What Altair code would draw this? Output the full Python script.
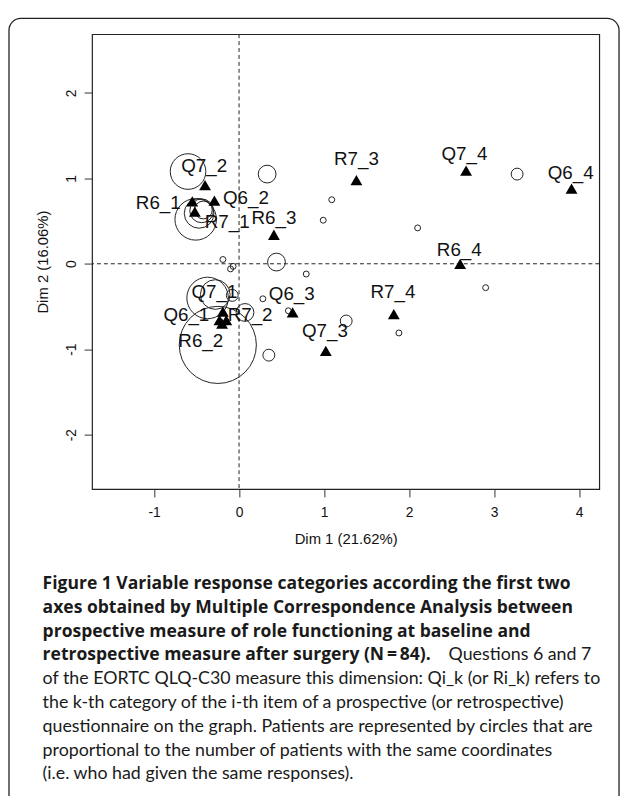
import altair as alt
import pandas as pd

# ---- category points (filled triangles) ----
cat_names = ["Q6_1", "Q6_2", "Q6_3", "Q6_4", "Q7_1", "Q7_2", "Q7_3", "Q7_4",
             "R6_1", "R6_2", "R6_3", "R6_4", "R7_1", "R7_2", "R7_3", "R7_4"]
cat_x = [-0.23, -0.29, 0.63, 3.91, -0.19, -0.40, 1.02, 2.67,
         -0.55, -0.20, 0.41, 2.60, -0.52, -0.15, 1.38, 1.82]
cat_y = [-0.66, 0.74, -0.57, 0.88, -0.56, 0.92, -1.02, 1.09,
         0.73, -0.70, 0.34, 0.00, 0.61, -0.66, 0.98, -0.59]
# label anchor points (data units)
lab_x = [-0.62, 0.08, 0.62, 3.90, -0.29, -0.41, 1.01, 2.65,
         -0.95, -0.45, 0.41, 2.59, -0.14, 0.13, 1.38, 1.81]
lab_y = [-0.60, 0.77, -0.35, 1.06, -0.33, 1.14, -0.79, 1.29,
         0.71, -0.91, 0.53, 0.16, 0.49, -0.60, 1.23, -0.33]

# ---- patients (open circles, radius proportional to count) ----
pat_x = [-0.60, -0.51, -0.47, -0.44, -0.42,
         -0.25, -0.37, -0.28, -0.08, 0.07,
         0.33, 0.44, 3.27, 1.26, 0.35,
         1.09, 0.99, -0.19, -0.10, -0.07, 0.79, 2.10, 2.90, 1.88, 0.28, 0.58]
pat_y = [1.08, 0.52, 0.59, 0.62, 0.63,
         -0.95, -0.40, -0.36, -0.37, -0.57,
         1.05, 0.02, 1.05, -0.67, -1.07,
         0.75, 0.51, 0.05, -0.06, -0.03, -0.12, 0.42, -0.28, -0.81, -0.41, -0.55]
pat_n = [6, 7, 5, 4, 3,
         13, 7, 5, 2, 3,
         3, 3, 2, 2, 2,
         1, 1, 1, 1, 1, 1, 1, 1, 1, 1, 1]

x_ticks = [-1, 0, 1, 2, 3, 4]
y_ticks = [-2, -1, 0, 1, 2]

caption_bold = [
    "Figure 1 Variable response categories according the first two",
    "axes obtained by Multiple Correspondence Analysis between",
    "prospective measure of role functioning at baseline and",
    "retrospective measure after surgery (N\u2009=\u200984).",
]
caption_tail = "Questions 6 and 7"
caption_regular = [
    "of the EORTC QLQ-C30 measure this dimension: Qi_k (or Ri_k) refers to",
    "the k-th category of the i-th item of a prospective (or retrospective)",
    "questionnaire on the graph. Patients are represented by circles that are",
    "proportional to the number of patients with the same coordinates",
    "(i.e. who had given the same responses).",
]

cats = pd.DataFrame({"name": cat_names, "x": cat_x, "y": cat_y,
                     "lx": lab_x, "ly": lab_y})
pats = pd.DataFrame({"x": pat_x, "y": pat_y, "n": pat_n})
one = pd.DataFrame({"a": [0]})

W, H = 513, 460
xs = alt.Scale(domain=[-1.729, 4.236], nice=False, zero=False)
ys = alt.Scale(domain=[-2.637, 2.688], nice=False, zero=False)

xaxis = alt.Axis(values=x_ticks, grid=False, domain=False, tickSize=8,
                 tickColor="#333", labelFontSize=14, labelPadding=9,
                 labelExpr="datum.value",
                 labelColor="#111", title="Dim 1 (21.62%)", titleFontSize=15,
                 titleFontWeight="normal", titleColor="#111", titlePadding=12,
                 labelFont="Liberation Sans", titleFont="Liberation Sans")
yaxis = alt.Axis(values=y_ticks, grid=False, domain=False, tickSize=8,
                 tickColor="#333", labelFontSize=14, labelPadding=6,
                 labelExpr="datum.value",
                 labelAngle=270, labelAlign="center", labelBaseline="bottom",
                 labelColor="#111", title="Dim 2 (16.06%)", titleFontSize=15,
                 titleFontWeight="normal", titleColor="#111", titlePadding=14,
                 labelFont="Liberation Sans", titleFont="Liberation Sans")

base = alt.Chart(pats)

circles = base.mark_point(shape="circle", filled=False, stroke="#222",
                          strokeWidth=1, opacity=1).encode(
    x=alt.X("x:Q", scale=xs, axis=xaxis),
    y=alt.Y("y:Q", scale=ys, axis=yaxis),
    size=alt.Size("n:Q", scale=alt.Scale(type="pow", exponent=2,
                                         domain=[0, 13], range=[0, 6084]),
                  legend=None),
)

vline = alt.Chart(one).mark_rule(color="#222", strokeDash=[4, 3],
                                 strokeWidth=1).encode(x=alt.datum(0, scale=xs))
hline = alt.Chart(one).mark_rule(color="#222", strokeDash=[4, 3],
                                 strokeWidth=1).encode(y=alt.datum(0, scale=ys))

tris = alt.Chart(cats).mark_point(shape="triangle-up", filled=True,
                                  color="black", size=144, opacity=1).encode(
    x=alt.X("x:Q", scale=xs), y=alt.Y("y:Q", scale=ys))

labels = alt.Chart(cats).mark_text(font="Liberation Sans", fontSize=19,
                                   color="#111", baseline="middle",
                                   align="center").encode(
    x=alt.X("lx:Q", scale=xs), y=alt.Y("ly:Q", scale=ys), text="name:N")

border = alt.Chart(one).mark_rect(fill=None, stroke="#222", strokeWidth=1.3,
                                  cornerRadius=12).encode(
    x=alt.value(-84), x2=alt.value(533), y=alt.value(-16), y2=alt.value(800))

layers = [border, vline, hline, circles, tris, labels]

cap_x = -50
cap_y0 = 556
cap_dy = 24.1
for i, line in enumerate(caption_bold):
    layers.append(alt.Chart(one).mark_text(
        font="Open Sans", fontSize=17.7, fontWeight="bold", align="left",
        baseline="middle", color="#1a1a1a").encode(
        x=alt.value(cap_x), y=alt.value(cap_y0 + i * cap_dy),
        text=alt.value(line)))
layers.append(alt.Chart(one).mark_text(
    font="Lato", fontSize=18, fontWeight="normal", align="right",
    baseline="middle", color="#1a1a1a").encode(
    x=alt.value(505), y=alt.value(cap_y0 + 3 * cap_dy),
    text=alt.value(caption_tail)))
for j, line in enumerate(caption_regular):
    layers.append(alt.Chart(one).mark_text(
        font="Lato", fontSize=18, fontWeight="normal", align="left",
        baseline="middle", color="#1a1a1a").encode(
        x=alt.value(cap_x), y=alt.value(cap_y0 + (4 + j) * cap_dy),
        text=alt.value(line)))

chart = alt.layer(*layers).properties(
    width=W, height=H,
    autosize=alt.AutoSizeParams(type="none"),
    padding={"left": 85, "top": 22, "right": 22, "bottom": 306},
).configure_view(stroke="#222", strokeWidth=1.2)

chart.save("out.html", embed_options={"renderer": "svg", "actions": False})
